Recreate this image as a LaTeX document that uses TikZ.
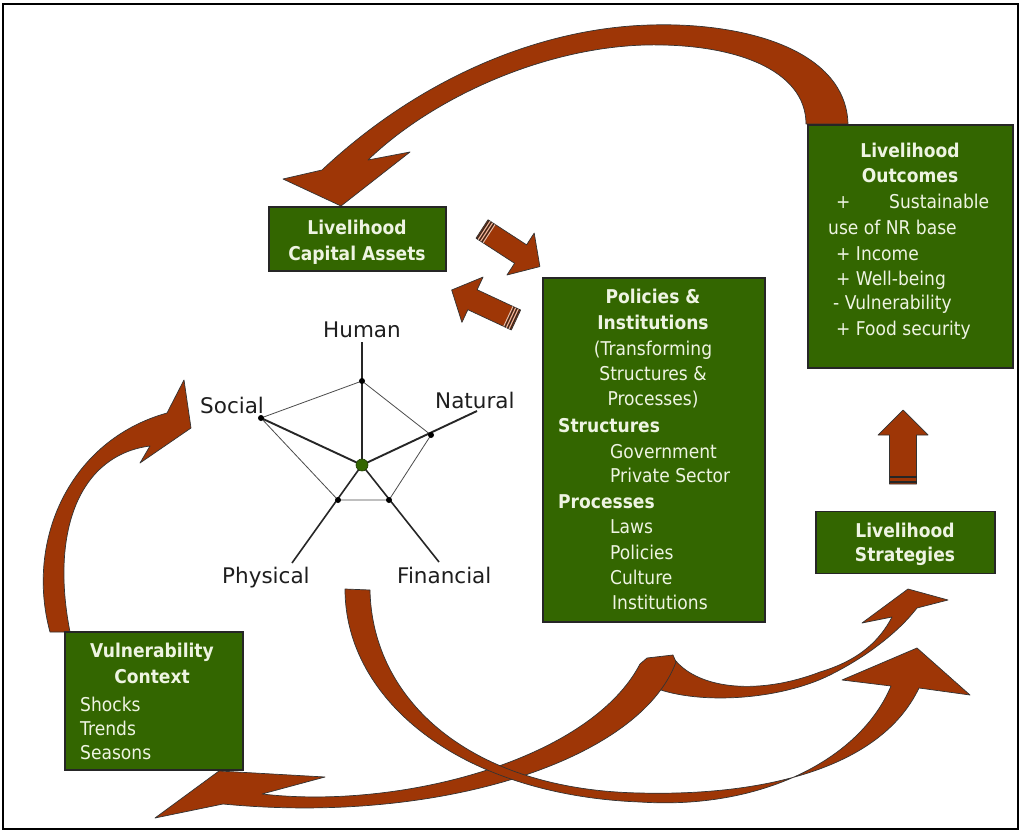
\documentclass[tikz,border=0pt]{standalone}
\usepackage{fontspec}
\setmainfont{DejaVu Sans}
\newfontfamily\boxfont{DejaVu Sans}[FakeStretch=0.9]
\definecolor{boxgreen}{RGB}{51,102,0}
\definecolor{arrowbrown}{RGB}{158,54,6}
\definecolor{boxtext}{RGB}{238,244,226}
\definecolor{labeltext}{RGB}{30,30,30}
\tikzset{
  gbox/.style={draw=black!85, line width=1.2pt, fill=boxgreen, inner sep=0pt},
  headtxt/.style={text=boxtext, font=\boxfont\bfseries\fontsize{19}{23}\selectfont, inner sep=0pt},
  bodytxt/.style={text=boxtext, font=\boxfont\fontsize{19}{23}\selectfont, inner sep=0pt},
  axislbl/.style={text=labeltext, font=\fontsize{21.5}{25}\selectfont, inner sep=0pt},
  barrow/.style={fill=arrowbrown, draw=black!80, line width=0.7pt, line join=round},
  axisline/.style={draw=black!85, line width=1.6pt},
  webline/.style={draw=black!70, line width=0.8pt},
  darkstripe/.style={draw=black!85, line width=1.2pt},
  lightstripe/.style={draw=white!70!arrowbrown, line width=0.9pt}
}
\begin{document}
\begin{tikzpicture}[x=1pt,y=-1pt]
\useasboundingbox (0,0) rectangle (1021,832);
\fill[white] (0,0) rectangle (1021,832);
\draw[line width=1.6pt] (3,4) rectangle (1018,829);

% ---- big curved arrows ----
% top: Outcomes -> Capital Assets
\path[barrow] (848,124) .. controls (846,50) and (745,22) .. (650,25)
   .. controls (540,28) and (420,78) .. (322,170)
   -- (283,179) -- (341,206) -- (410,152) -- (368,160)
   .. controls (430,100) and (540,48) .. (645,45)
   .. controls (735,43) and (806,70) .. (806,124) -- cycle;
% left: Vulnerability -> Social
\path[barrow] (50,632) .. controls (25,540) and (70,440) .. (167,413)
   -- (184,380) -- (191,428) -- (140,463) -- (150,446)
   .. controls (80,455) and (50,530) .. (70,632) -- cycle;
% G: twist -> Strategies (upper head)
\path[barrow] (655,688) .. controls (700,705) and (780,700) .. (830,675)
   .. controls (870,655) and (900,630) .. (917,608)
   -- (948,600) -- (908,589) -- (862,623) -- (892,617)
   .. controls (880,640) and (860,660) .. (820,672)
   .. controls (760,695) and (700,690) .. (675,660)
   -- (648,660) -- cycle;
% H: twist -> Vulnerability
\path[barrow] (155,818) -- (219,771) -- (325,777) -- (262,794)
   .. controls (400,810) and (590,760) .. (640,664)
   -- (647,658) -- (673,655) -- (676,662)
   .. controls (640,760) and (440,825) .. (223,804) -- cycle;
% F: below assets -> Strategies (lower head)
\path[barrow] (345,589) .. controls (345,700) and (460,795) .. (640,802)
   .. controls (760,810) and (860,760) .. (891,686)
   -- (842,680) -- (917,648) -- (970,695) -- (919,688)
   .. controls (880,770) and (760,796) .. (640,793)
   .. controls (470,790) and (372,700) .. (370,590) -- cycle;

% ---- straight block arrows ----
\begin{scope}[shift={(482,229)}, rotate=-33]
  \path[barrow] (0,-11) -- (46,-11) -- (46,-25) -- (69,0) -- (46,25) -- (46,11) -- (0,11) -- cycle;
  \draw[darkstripe, line width=0.8pt] (1.2,-11) -- (1.2,11) (4,-11) -- (4,11) (7,-11) -- (7,11);
  \draw[lightstripe] (2.6,-11) -- (2.6,11) (5.5,-11) -- (5.5,11) (8.5,-11) -- (8.5,11);
\end{scope}
\begin{scope}[shift={(516,320)}, rotate=155]
  \path[barrow] (0,-11) -- (48,-11) -- (48,-25) -- (71,0) -- (48,25) -- (48,11) -- (0,11) -- cycle;
  \draw[darkstripe, line width=0.8pt] (1.2,-11) -- (1.2,11) (4,-11) -- (4,11) (7,-11) -- (7,11);
  \draw[lightstripe] (2.6,-11) -- (2.6,11) (5.5,-11) -- (5.5,11) (8.5,-11) -- (8.5,11);
\end{scope}
\begin{scope}[shift={(903,484)}, rotate=90]
  \path[barrow] (0,-13.5) -- (49,-13.5) -- (49,-25) -- (74,0) -- (49,25) -- (49,13.5) -- (0,13.5) -- cycle;
  \draw[darkstripe] (2,-13.5) -- (2,13.5) (7,-13.5) -- (7,13.5);
\end{scope}

% ---- boxes ----
\node[gbox, minimum width=177pt, minimum height=64pt] (capbox) at (357.5,239) {};
\node[headtxt, anchor=base] (capt1) at (357,235) {Livelihood};
\node[headtxt, anchor=base] (capt2) at (357,260) {Capital Assets};

\node[gbox, minimum width=222pt, minimum height=344pt] (polbox) at (654,450) {};
\node[headtxt, anchor=base] (polt1) at (653,303) {Policies \&};
\node[headtxt, anchor=base] (polt2) at (653,329) {Institutions};
\node[bodytxt, anchor=base] (polt3) at (653,355) {(Transforming};
\node[bodytxt, anchor=base] (polt4) at (653,380) {Structures \&};
\node[bodytxt, anchor=base] (polt5) at (653,405) {Processes)};
\node[headtxt, anchor=base west] (polt6) at (558,432) {Structures};
\node[bodytxt, anchor=base west] (polt7) at (610,458) {Government};
\node[bodytxt, anchor=base west] (polt8) at (610,482) {Private Sector};
\node[headtxt, anchor=base west] (polt9) at (558,508) {Processes};
\node[bodytxt, anchor=base west] (polt10) at (610,533) {Laws};
\node[bodytxt, anchor=base west] (polt11) at (610,559) {Policies};
\node[bodytxt, anchor=base west] (polt12) at (610,584) {Culture};
\node[bodytxt, anchor=base west] (polt13) at (612,609) {Institutions};

\node[gbox, minimum width=205pt, minimum height=243pt] (outbox) at (910.5,246.5) {};
\node[headtxt, anchor=base] (outt1) at (910,158) {Livelihood};
\node[headtxt, anchor=base] (outt2) at (910,183) {Outcomes};
\node[bodytxt, anchor=base west] (outt3) at (836,209) {+};
\node[bodytxt, anchor=base west] (outt4) at (889,209) {Sustainable};
\node[bodytxt, anchor=base west] (outt5) at (828,235) {use of NR base};
\node[bodytxt, anchor=base west] (outt6) at (836,260) {+ Income};
\node[bodytxt, anchor=base west] (outt7) at (836,285) {+ Well-being};
\node[bodytxt, anchor=base west] (outt8) at (833,309) {- Vulnerability};
\node[bodytxt, anchor=base west] (outt9) at (836,335) {+ Food security};

\node[gbox, minimum width=179pt, minimum height=62pt] (strbox) at (905.5,542.5) {};
\node[headtxt, anchor=base] (strt1) at (905,537) {Livelihood};
\node[headtxt, anchor=base] (strt2) at (905,561) {Strategies};

\node[gbox, minimum width=178pt, minimum height=138pt] (vulbox) at (154,701) {};
\node[headtxt, anchor=base] (vult1) at (152,657) {Vulnerability};
\node[headtxt, anchor=base] (vult2) at (152,683) {Context};
\node[bodytxt, anchor=base west] (vult3) at (80,711) {Shocks};
\node[bodytxt, anchor=base west] (vult4) at (80,735) {Trends};
\node[bodytxt, anchor=base west] (vult5) at (80,759) {Seasons};

% ---- asset pentagon ----
\node[axislbl, anchor=base] (lhum) at (362,337) {Human};
\node[axislbl, anchor=base west] (lsoc) at (200,413) {Social};
\node[axislbl, anchor=base west] (lnat) at (435,408) {Natural};
\node[axislbl, anchor=base west] (lphy) at (222,583) {Physical};
\node[axislbl, anchor=base west] (lfin) at (397,583) {Financial};

\coordinate (ctr) at (362,465);
\coordinate (hum) at (362,381);
\coordinate (humE) at (362,342);
\coordinate (soc) at (261,418);
\coordinate (nat) at (431,435);
\coordinate (natE) at (477,411);
\coordinate (phy) at (338,500);
\coordinate (phyE) at (292,563);
\coordinate (fin) at (389,500);
\coordinate (finE) at (439,562);

\draw[webline] (hum) -- (nat) -- (fin) -- (phy) -- (soc) -- cycle;
\draw[axisline, line width=1.3pt] (ctr) -- (humE);
\draw[axisline, line width=1.9pt] (ctr) -- (soc);
\draw[axisline, line width=1.9pt] (ctr) -- (natE);
\draw[axisline] (ctr) -- (phyE);
\draw[axisline] (ctr) -- (finE);
\foreach \p in {hum,soc,nat,phy,fin} \fill[black] (\p) circle (3pt);
\filldraw[fill=boxgreen, draw=boxgreen!60!black, line width=0.6pt] (ctr) circle (6pt);
\end{tikzpicture}
\end{document}
